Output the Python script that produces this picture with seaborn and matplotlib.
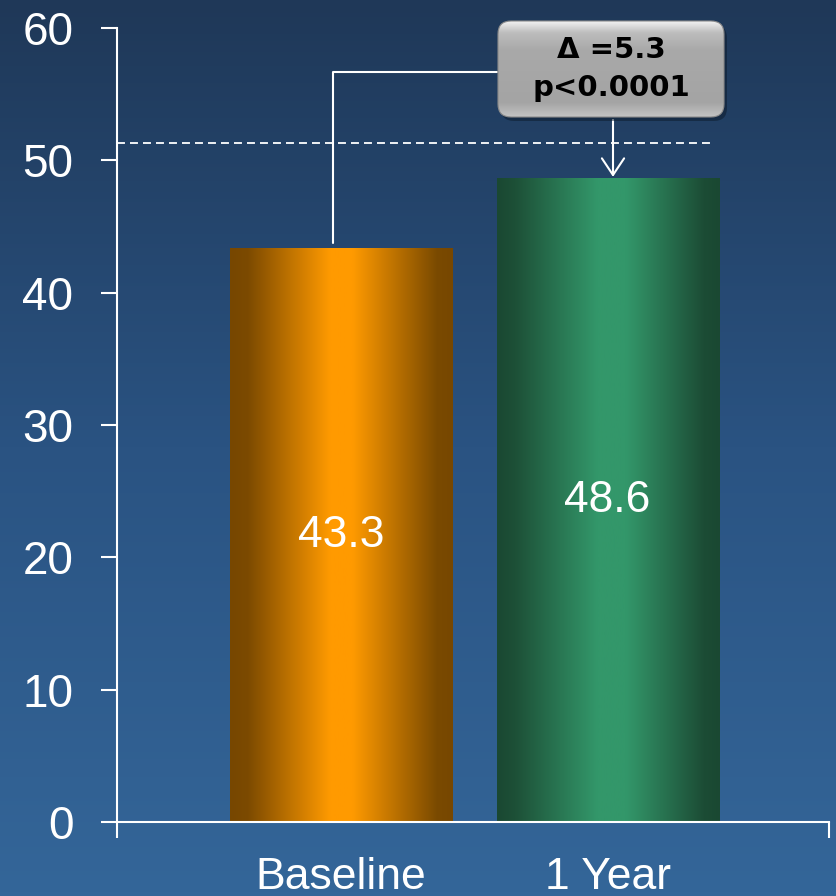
import numpy as np
import pandas as pd
import matplotlib.pyplot as plt
import seaborn as sns
from matplotlib.patches import FancyBboxPatch
from matplotlib.colors import LinearSegmentedColormap

# --- datos ---
categories = ["Baseline", "1 Year"]
values = [43.3, 48.6]
value_labels = ["43.3", "48.6"]
reference_level = 51.3
y_ticks = [0, 10, 20, 30, 40, 50, 60]
box_lines = ["Δ =5.3", "p<0.0001"]

sns.set_theme(style="white")
plt.rcParams['font.family'] = ['Liberation Sans', 'DejaVu Sans']

fig = plt.figure(figsize=(8.36, 8.96), dpi=100)

# fondo degradado
bg = fig.add_axes([0, 0, 1, 1], zorder=-10)
bg_cmap = LinearSegmentedColormap.from_list("bg", ["#1f3858", "#2a5382", "#346699"])
bg.imshow(np.linspace(0, 1, 256).reshape(-1, 1), aspect='auto', cmap=bg_cmap,
          extent=[0, 1, 0, 1], origin='upper')
bg.axis('off')

ax = fig.add_axes([117 / 836, 74 / 896, 712 / 836, 794 / 896])
ax.patch.set_alpha(0)

df = pd.DataFrame({"period": categories, "value": values})
sns.barplot(data=df, x="period", y="value", ax=ax, width=0.833,
            color="#ff9a00", saturation=1, errorbar=None)

bar_cmaps = [
    LinearSegmentedColormap.from_list("orange", [(0, "#774700"), (0.08, "#7c4a00"),
                                                 (0.45, "#ff9a00"), (0.55, "#ff9a00"),
                                                 (0.93, "#7a4a00"), (1, "#774700")]),
    LinearSegmentedColormap.from_list("green", [(0, "#1a4832"), (0.08, "#1d5037"),
                                                (0.45, "#33976a"), (0.58, "#33976a"),
                                                (0.93, "#1c4c35"), (1, "#1a4832")]),
]
for patch, cmap, lab, val in zip(ax.patches, bar_cmaps, value_labels, values):
    x0, w, h = patch.get_x(), patch.get_width(), patch.get_height()
    patch.set_visible(False)
    ax.imshow(np.linspace(0, 1, 256).reshape(1, -1), aspect='auto', cmap=cmap,
              extent=[x0, x0 + w, 0, h], zorder=2)
    ax.text(x0 + w / 2, val / 2, lab, ha='center', va='center', color='white',
            fontsize=32, zorder=3)

ax.set_xlim(-0.84, 1.83)
ax.set_ylim(0, 60)

# línea de referencia discontinua
ax.plot([-0.84, 1.385], [reference_level, reference_level], color='white',
        lw=1.3, dashes=(4.4, 2.8), zorder=1)

# conector y flecha
ax.plot([-0.03, -0.03, 0.585], [43.75, 56.7, 56.7], color='white', lw=1.5,
        clip_on=False, zorder=4)
ax.annotate('', xy=(1.02, 48.75), xytext=(1.02, 53.05),
            arrowprops=dict(arrowstyle='->,head_length=0.3,head_width=0.2',
                            color='white', lw=1.5, mutation_scale=40,
                            shrinkA=0, shrinkB=0))

# ejes
sns.despine(ax=ax)
for side in ['left', 'bottom']:
    ax.spines[side].set_color('white')
    ax.spines[side].set_linewidth(1.5)
ax.set_yticks(y_ticks)
ax.tick_params(axis='y', colors='white', length=11.5, width=1.5, direction='out',
               labelsize=33, pad=20, left=True)
ax.set_xticks([0, 1])
ax.set_xticklabels(categories)
ax.tick_params(axis='x', which='major', length=0, labelsize=32, pad=25, labelcolor='white')
ax.set_xticks([-0.84, 1.83], minor=True)
ax.tick_params(axis='x', which='minor', length=11.5, width=1.5, color='white',
               direction='out', bottom=True)
ax.set_xlabel("")
ax.set_ylabel("")

# caja de anotación
bax = fig.add_axes([497 / 836, (896 - 121) / 896, 232 / 836, 102 / 896], zorder=5)
bax.set_xlim(0, 232)
bax.set_ylim(0, 102)
bax.axis('off')
shadow = FancyBboxPatch((4, 0), 226, 96, boxstyle="round,pad=0,rounding_size=13",
                        facecolor='#0c1a2a', edgecolor='none', alpha=0.5, clip_on=False)
bax.add_patch(shadow)
box = FancyBboxPatch((1, 4), 226, 96, boxstyle="round,pad=0,rounding_size=13",
                     facecolor='none', edgecolor='#8a8a8a', lw=0.8, zorder=3)
bax.add_patch(box)
box_cmap = LinearSegmentedColormap.from_list("box", [(0, "#f2f2f2"), (0.12, "#bdbdbd"),
                                                     (0.3, "#a9a9a9"), (0.85, "#a4a4a4"),
                                                     (1, "#c4c4c4")])
img = bax.imshow(np.linspace(0, 1, 256).reshape(-1, 1), aspect='auto', cmap=box_cmap,
                 extent=[1, 227, 4, 100], origin='upper', zorder=2)
img.set_clip_path(box)
bax.text(114, 71, box_lines[0], ha='center', va='center', fontsize=21,
         fontweight='bold', color='black', family='DejaVu Sans', zorder=4)
bax.text(114, 33, box_lines[1], ha='center', va='center', fontsize=21,
         fontweight='bold', color='black', family='DejaVu Sans', zorder=4)

fig.savefig("out.png", dpi=100)
